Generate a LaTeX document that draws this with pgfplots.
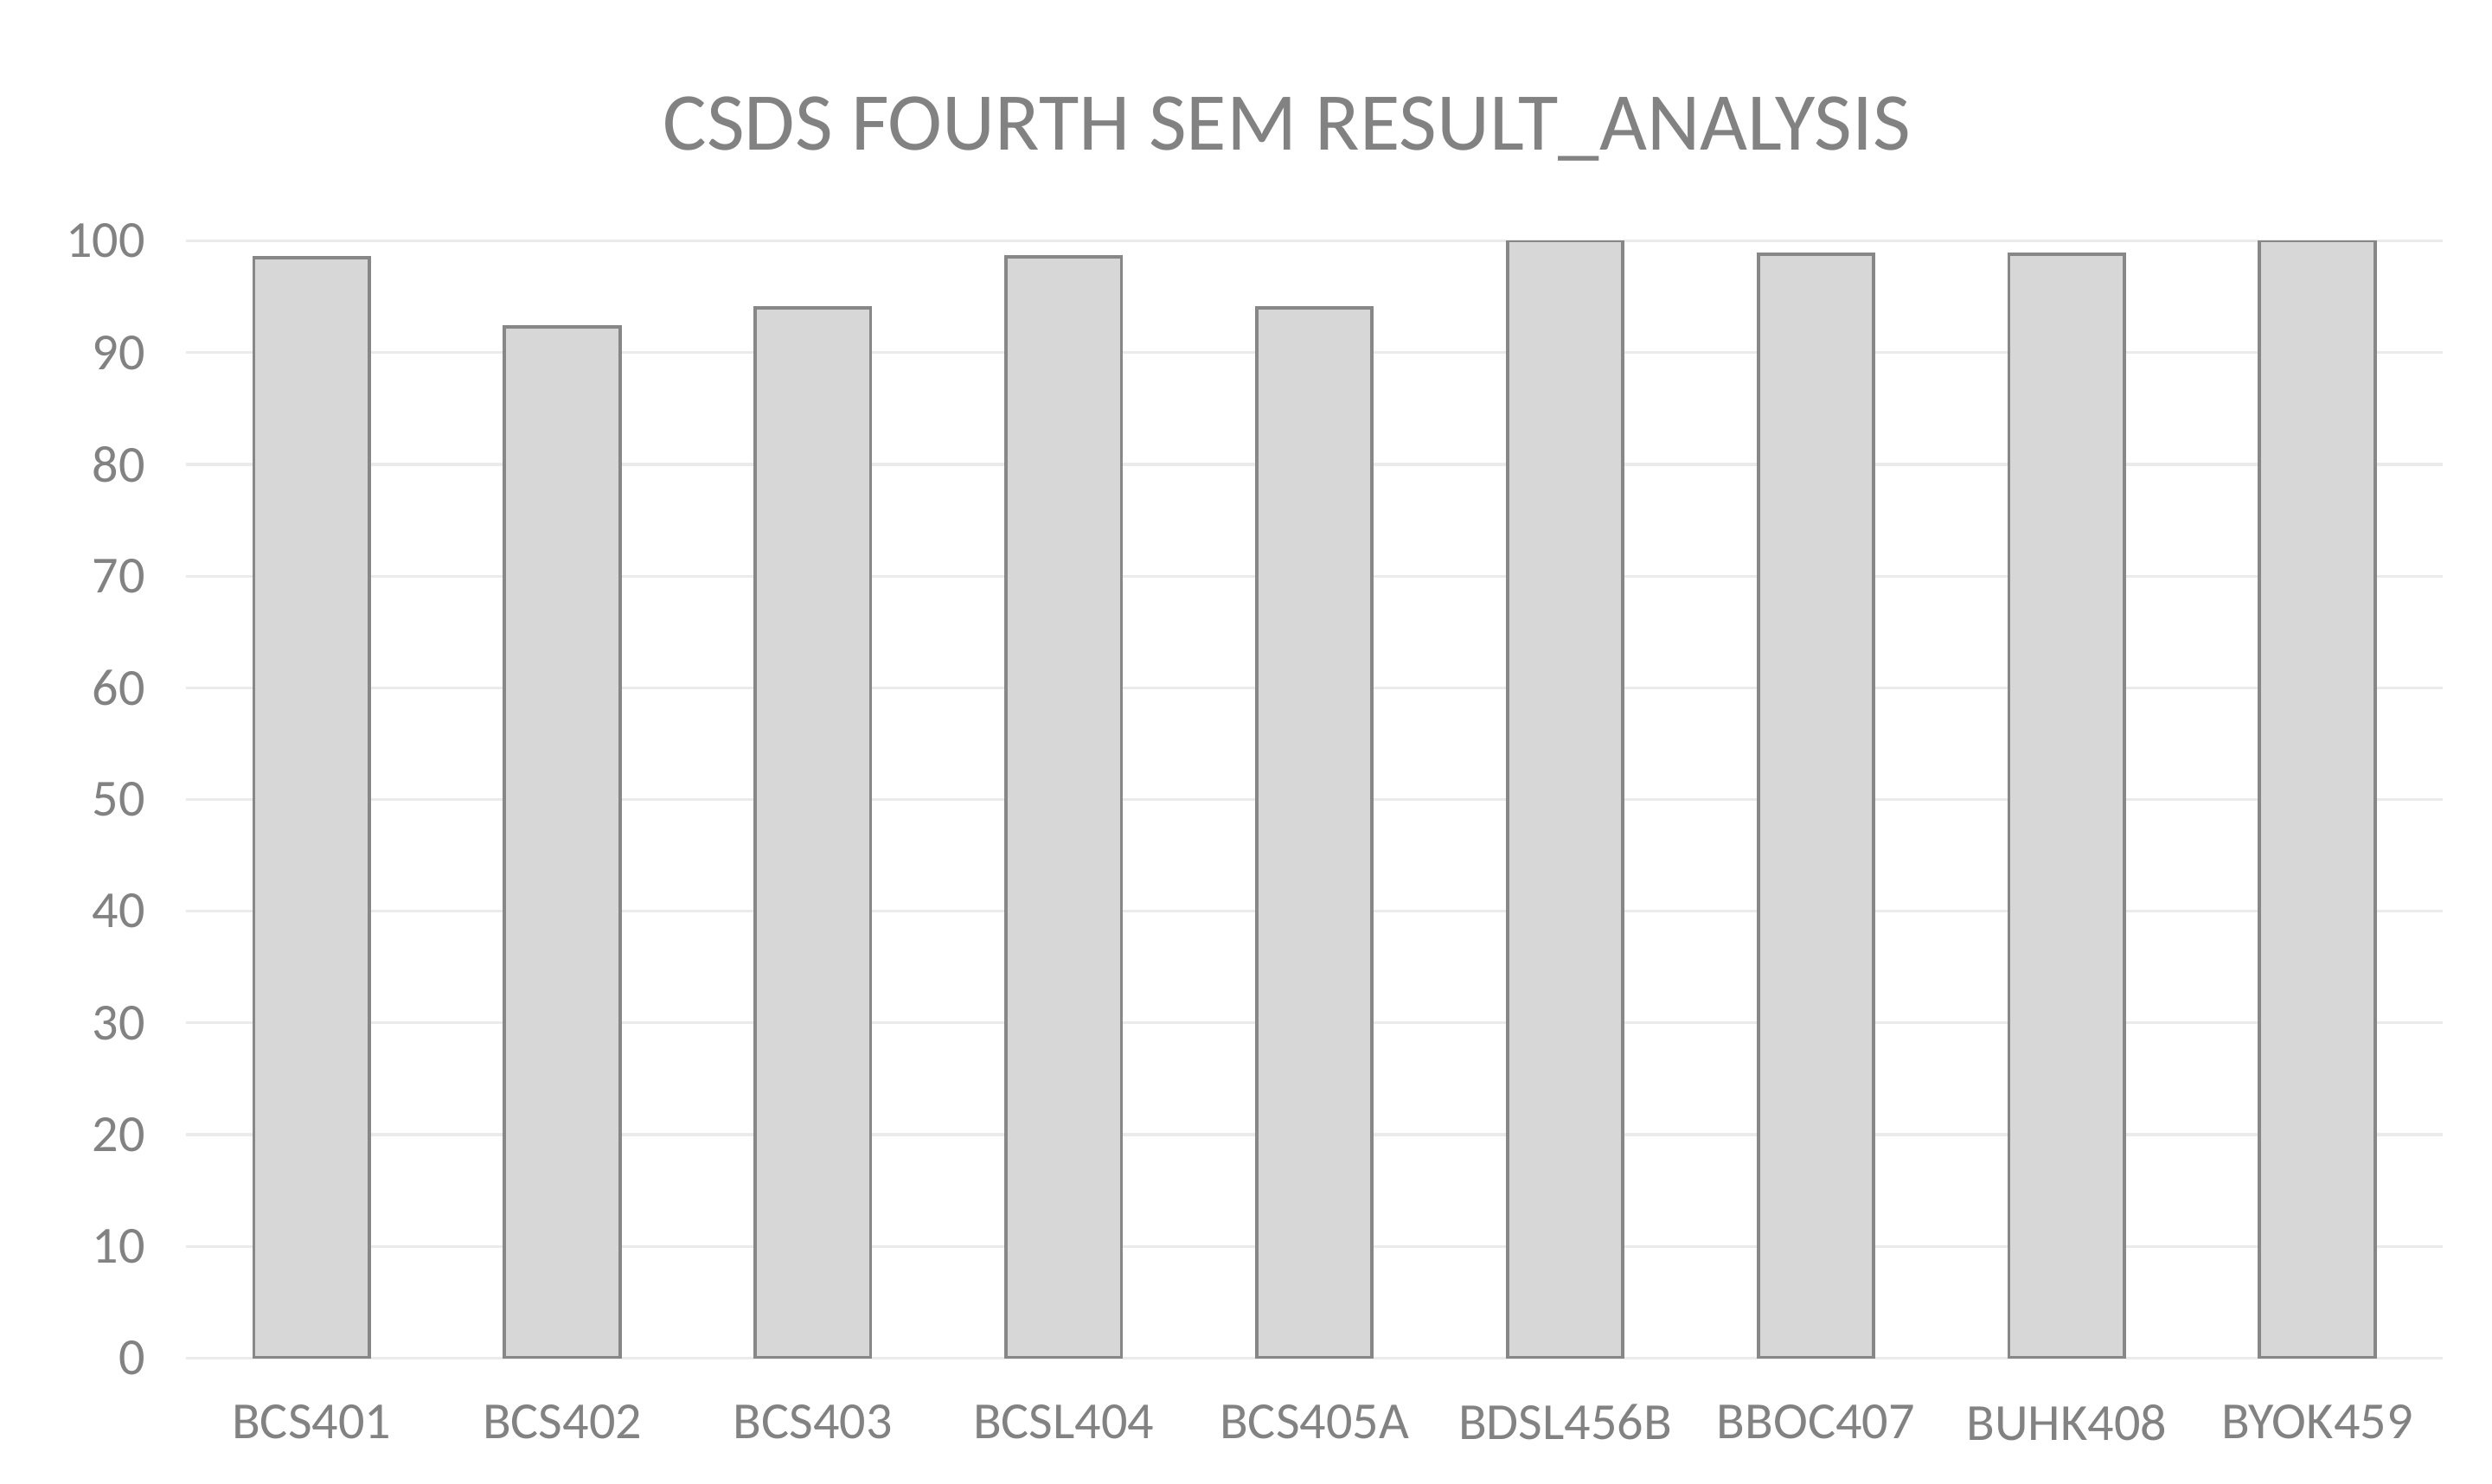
\documentclass[border=0pt]{standalone}
\usepackage{fontspec}
\setmainfont{Carlito}
\usepackage{pgfplots}
\pgfplotsset{compat=1.18}
\definecolor{txt}{RGB}{130,130,130}
\definecolor{barfill}{RGB}{215,215,215}
\definecolor{barline}{RGB}{135,135,135}
\definecolor{gridc}{RGB}{235,235,235}
\begin{document}
\begin{tikzpicture}
\path[use as bounding box] (0,0) rectangle (455pt,271pt);
\begin{axis}[
    at={(34pt,23pt)}, anchor=south west,
    width=412pt, height=204pt, scale only axis,
    ymin=0, ymax=100,
    ytick={0,10,...,100},
    xmin=-0.5, xmax=8.5,
    xtick=data,
    xticklabels={BCS401,BCS402,BCS403,BCSL404,BCS405A,BDSL456B,BBOC407,BUHK408,BYOK459},
    ymajorgrids=true,
    grid style={gridc, line width=0.5pt},
    axis line style={draw=none},
    major tick length=0pt,
    tick label style={font=\fontsize{9.5}{11}\selectfont, text=txt},
    yticklabel style={xshift=-4pt},
    xticklabel style={yshift=-5pt},
    /pgf/number format/assume math mode=true,
    title={CSDS FOURTH SEM RESULT\_ANALYSIS},
    title style={font=\fontsize{15}{18}\selectfont, text=txt, yshift=5pt, xshift=-5pt},
    ybar, bar width=0.46,
]
\addplot[fill=barfill, draw=barline, line width=0.6pt] coordinates {
    (0,98.5) (1,92.3) (2,94.0) (3,98.6) (4,94.0) (5,100) (6,98.8) (7,98.8) (8,100)
};
\end{axis}
\end{tikzpicture}
\end{document}
